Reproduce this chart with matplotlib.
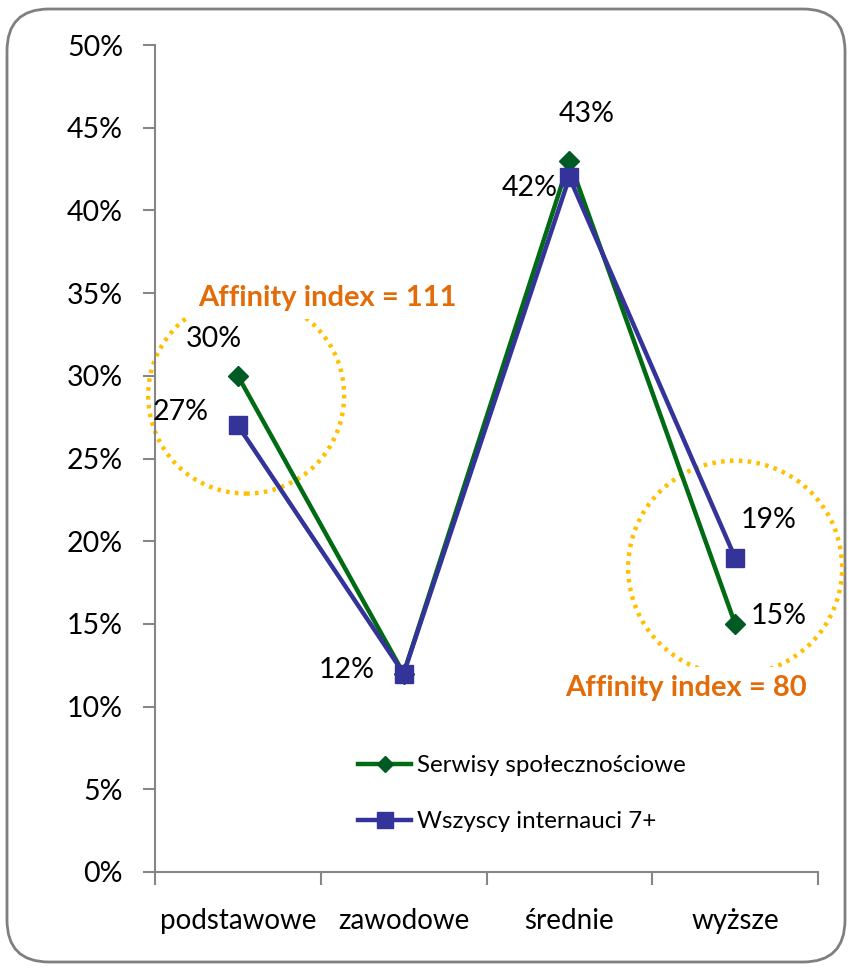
import matplotlib
matplotlib.use("Agg")
import matplotlib.pyplot as plt
from matplotlib.patches import FancyBboxPatch
from matplotlib.ticker import FuncFormatter

plt.rcParams['font.family'] = ['Lato', 'DejaVu Sans']

categories = ['podstawowe', 'zawodowe', 'średnie', 'wyższe']
social = [30, 12, 43, 15]
all_users = [27, 12, 42, 19]
social_name = 'Serwisy społecznościowe'
all_name = 'Wszyscy internauci 7+'

# label offsets in pixels (relative to the point)
social_off = [(-24, 37), None, (17, 47), (44, 8)]
all_off = [(-57, 13), (-57, 4), (-40, -11), (34, 38)]

# affinity circles: category, value at centre, diameter in px, caption
affinity = [(0.05, 28.8, 196, 'Affinity index = 111', (327, 298)),
            (3.0, 18.4, 214, 'Affinity index = 80', (686, 688))]

green = '#006B12'
green_mk = '#005A23'
blue = '#333399'
orange = '#E36C09'
axis_grey = '#868686'

fig = plt.figure(figsize=(8.49, 9.69), dpi=100)
fig.patches.append(FancyBboxPatch((0.07, 0.07), 8.38, 9.53,
                                  boxstyle='round,pad=0,rounding_size=0.42',
                                  transform=fig.dpi_scale_trans,
                                  facecolor='white', edgecolor='#7f7f7f',
                                  linewidth=2, zorder=-1))

ax = fig.add_axes([155 / 849, 1 - 872 / 969, (818 - 155) / 849, (872 - 45) / 969])
ax.patch.set_alpha(0)

x = list(range(len(categories)))
ax.plot(x, social, color=green, lw=3.2, marker='D', ms=10,
        mfc=green_mk, mec=green_mk, label=social_name, zorder=4)
ax.plot(x, all_users, color=blue, lw=3.2, marker='s', ms=13.5,
        mfc=blue, mec=blue, label=all_name, zorder=5)

for xi, v, off in zip(x, social, social_off):
    if off is None:
        continue
    ax.annotate(f'{v}%', (xi, v), xytext=off, textcoords='offset pixels',
                ha='center', va='center', fontsize=20.5, color='black', zorder=6)
for xi, v, off in zip(x, all_users, all_off):
    ax.annotate(f'{v}%', (xi, v), xytext=off, textcoords='offset pixels',
                ha='center', va='center', fontsize=20.5, color='black', zorder=6)

for cx, cy, d, caption, pos in affinity:
    ax.scatter([cx], [cy], s=(d * 0.72) ** 2, facecolors='none',
               edgecolors='#FFC000', linewidths=3.2, linestyle=(0, (0.8, 1.2)),
               clip_on=False, zorder=2)
    fig.text(pos[0] / 849, 1 - pos[1] / 969, caption, ha='center', va='center',
             fontsize=21, fontweight='bold', color=orange, zorder=10,
             bbox=dict(facecolor='white', edgecolor='none', pad=6))

ax.set_xlim(-0.5, 3.5)
ax.set_ylim(0, 50)
ax.set_yticks(range(0, 51, 5))
ax.yaxis.set_major_formatter(FuncFormatter(lambda v, p: f'{v:.0f}%'))
ax.set_xticks([i - 0.5 for i in range(len(categories) + 1)])
ax.set_xticklabels([])
ax.set_xticks(x, minor=True)
ax.set_xticklabels(categories, minor=True)
ax.tick_params(axis='x', which='minor', length=0, pad=26, labelsize=20)
ax.tick_params(axis='x', which='major', length=9, width=1.5, color=axis_grey)
ax.tick_params(axis='y', length=9, width=1.5, color=axis_grey, pad=14, labelsize=20.5)

for s in ['top', 'right']:
    ax.spines[s].set_visible(False)
for s in ['left', 'bottom']:
    ax.spines[s].set_color(axis_grey)
    ax.spines[s].set_linewidth(1.5)

ax.legend(loc='upper left', bbox_to_anchor=(0.292, 0.153), frameon=False,
          fontsize=17.4, handlelength=2.2, handletextpad=0.25, labelspacing=1.45,
          borderaxespad=0, markerscale=0.85)

fig.savefig('out.png', dpi=100)
